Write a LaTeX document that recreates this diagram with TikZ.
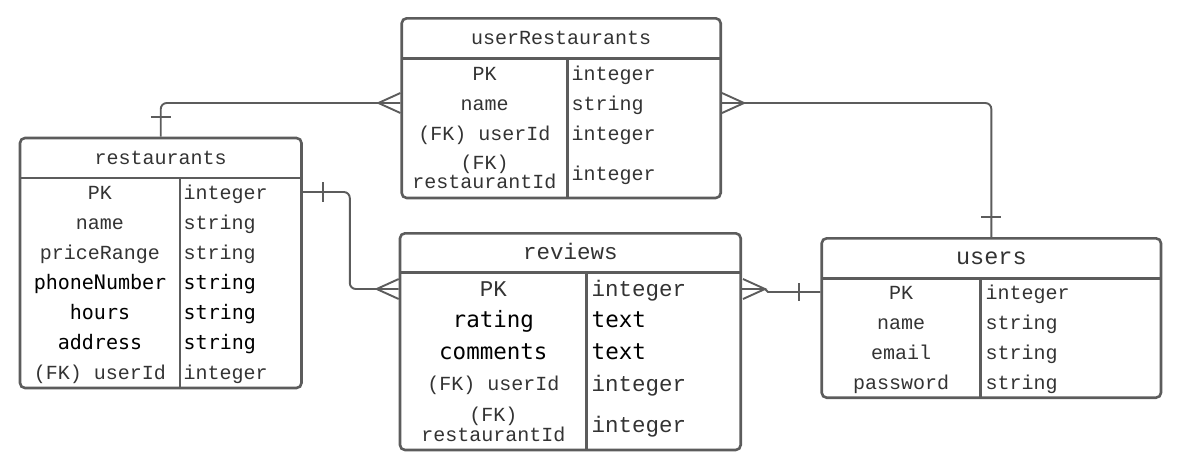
\documentclass[tikz,border=0pt]{standalone}
\usepackage{fontspec}
\setmonofont{Liberation Mono}
\newfontfamily\blackmono{DejaVu Sans Mono}
\definecolor{erline}{HTML}{5C5C5C}
\definecolor{ertext}{HTML}{333333}
\tikzset{
  tablebox/.style={draw=erline, line width=2.6pt, rounded corners=5pt, inner sep=0pt},
  tableline/.style={draw=erline, line width=2.6pt},
  rel/.style={draw=erline, line width=1.9pt, rounded corners=6pt},
  cell/.style={inner sep=0pt, anchor=base, text height=16pt, text depth=2pt, text=ertext, font=\ttfamily\fontsize{20}{20}\selectfont},
  bigcell/.style={cell, font=\ttfamily\fontsize{22.5}{24}\selectfont},
  darkcell/.style={cell, text=black, font=\blackmono\fontsize{20}{20}\selectfont},
  bigdarkcell/.style={cell, text=black, font=\blackmono\fontsize{22.5}{24}\selectfont},
  twoline/.style={cell, text height=12pt, text depth=3pt},
  crowfoot/.pic={\draw[rel, rounded corners=0pt] (22,-10) -- (0,0) -- (22,10);}
}
\begin{document}
\begin{tikzpicture}[x=1pt,y=-1pt]
\useasboundingbox (0,0) rectangle (1181,469);

\node [tablebox, minimum width=281.5pt, minimum height=250pt] (restaurants) at (160.75,263) {};
\draw [tableline] (20,178) -- (301.5,178);
\draw [tableline] (180,178) -- (180,388);
\node [cell] (rsTitle) at (160.75,164) {restaurants};
\node [cell] (rsPK) at (100,199) {PK};
\node [cell, anchor=base west] (rsPKt) at (183.5,199) {integer};
\node [cell] (rsName) at (100,229) {name};
\node [cell, anchor=base west] (rsNamet) at (183.5,229) {string};
\node [cell] (rsPrice) at (100,259) {priceRange};
\node [cell, anchor=base west] (rsPricet) at (183.5,259) {string};
\node [darkcell] (rsPhone) at (100,289) {phoneNumber};
\node [darkcell, anchor=base west] (rsPhonet) at (183.5,289) {string};
\node [darkcell] (rsHours) at (100,319) {hours};
\node [darkcell, anchor=base west] (rsHourst) at (183.5,319) {string};
\node [darkcell] (rsAddr) at (100,349) {address};
\node [darkcell, anchor=base west] (rsAddrt) at (183.5,349) {string};
\node [cell] (rsUser) at (100,379) {(FK) userId};
\node [cell, anchor=base west] (rsUsert) at (183.5,379) {integer};

\node [tablebox, minimum width=319pt, minimum height=179.7pt] (userRestaurants) at (561.2,108.15) {};
\draw [tableline] (401.7,58.3) -- (720.7,58.3);
\draw [tableline] (567.3,58.3) -- (567.3,198);
\node [cell] (urTitle) at (561.2,44.3) {userRestaurants};
\node [cell] (urPK) at (484.5,80) {PK};
\node [cell, anchor=base west] (urPKt) at (571.5,80) {integer};
\node [cell] (urName) at (484.5,110) {name};
\node [cell, anchor=base west] (urNamet) at (571.5,110) {string};
\node [cell] (urUser) at (484.5,140) {(FK) userId};
\node [cell, anchor=base west] (urUsert) at (571.5,140) {integer};
\node [twoline] (urRestA) at (484.5,169) {(FK)};
\node [twoline] (urRestB) at (484.5,188.5) {restaurantId};
\node [cell, anchor=base west] (urRestt) at (571.5,180) {integer};

\node [tablebox, minimum width=340.7pt, minimum height=216.7pt] (reviews) at (570.35,341.65) {};
\draw [tableline] (400,272.7) -- (740.7,272.7);
\draw [tableline] (586.7,272.7) -- (586.7,450);
\node [bigcell] (rvTitle) at (570.35,259) {reviews};
\node [bigcell] (rvPK) at (493.35,296) {PK};
\node [bigcell, anchor=base west] (rvPKt) at (591.5,296) {integer};
\node [bigdarkcell] (rvRating) at (493.35,327.3) {rating};
\node [bigdarkcell, anchor=base west] (rvRatingt) at (591.5,327.3) {text};
\node [bigdarkcell] (rvComm) at (493.35,359.3) {comments};
\node [bigdarkcell, anchor=base west] (rvCommt) at (591.5,359.3) {text};
\node [cell] (rvUser) at (493.35,390) {(FK) userId};
\node [bigcell, anchor=base west] (rvUsert) at (591.5,391) {integer};
\node [twoline] (rvRestA) at (493.35,421.5) {(FK)};
\node [twoline] (rvRestB) at (493.35,441.5) {restaurantId};
\node [bigcell, anchor=base west] (rvRestt) at (591.5,432) {integer};

\node [tablebox, minimum width=339.3pt, minimum height=159.4pt] (users) at (991.35,318) {};
\draw [tableline] (821.7,278.3) -- (1161,278.3);
\draw [tableline] (980.7,278.3) -- (980.7,397.7);
\node [bigcell, font=\ttfamily\fontsize{23.5}{24}\selectfont] (usTitle) at (991.35,264.3) {users};
\node [cell] (usPK) at (901.2,299) {PK};
\node [cell, anchor=base west] (usPKt) at (985.5,299) {integer};
\node [cell] (usName) at (901.2,329) {name};
\node [cell, anchor=base west] (usNamet) at (985.5,329) {string};
\node [cell] (usMail) at (901.2,359) {email};
\node [cell, anchor=base west] (usMailt) at (985.5,359) {string};
\node [cell] (usPass) at (901.2,389) {password};
\node [cell, anchor=base west] (usPasst) at (985.5,389) {string};

\coordinate (urL) at (userRestaurants.west |- urName);
\coordinate (urR) at (userRestaurants.east |- urName);
\coordinate (rsR) at (restaurants.east |- rsPK);
\coordinate (rvL) at (reviews.west |- rvPK);
\coordinate (rvR) at (reviews.east |- rvPK);
\coordinate (usL) at (users.west |- usPK);

\draw [rel] (restaurants.north) |- (urL);
\draw [rel] ([shift={(-10,-20)}]restaurants.north) -- ++(20,0);
\pic at ([xshift=-22pt]urL) {crowfoot};

\draw [rel] (urR) -| (users.north);
\draw [rel] ([shift={(-10,-20)}]users.north) -- ++(20,0);
\pic [rotate=180] at ([xshift=22pt]urR) {crowfoot};

\draw [rel] (rsR) -- ++(47,0) |- (rvL);
\draw [rel] ([shift={(20,-10)}]rsR) -- ++(0,20);
\pic at ([xshift=-22pt]rvL) {crowfoot};

\draw [rel, rounded corners=0pt] (rvR) -- ++(23,0) -- ++(3,3) -- (usL);
\draw [rel] ([shift={(-21,-9)}]usL) -- ++(0,18);
\pic [rotate=180] at ([xshift=23pt]rvR) {crowfoot};
\end{tikzpicture}
\end{document}
